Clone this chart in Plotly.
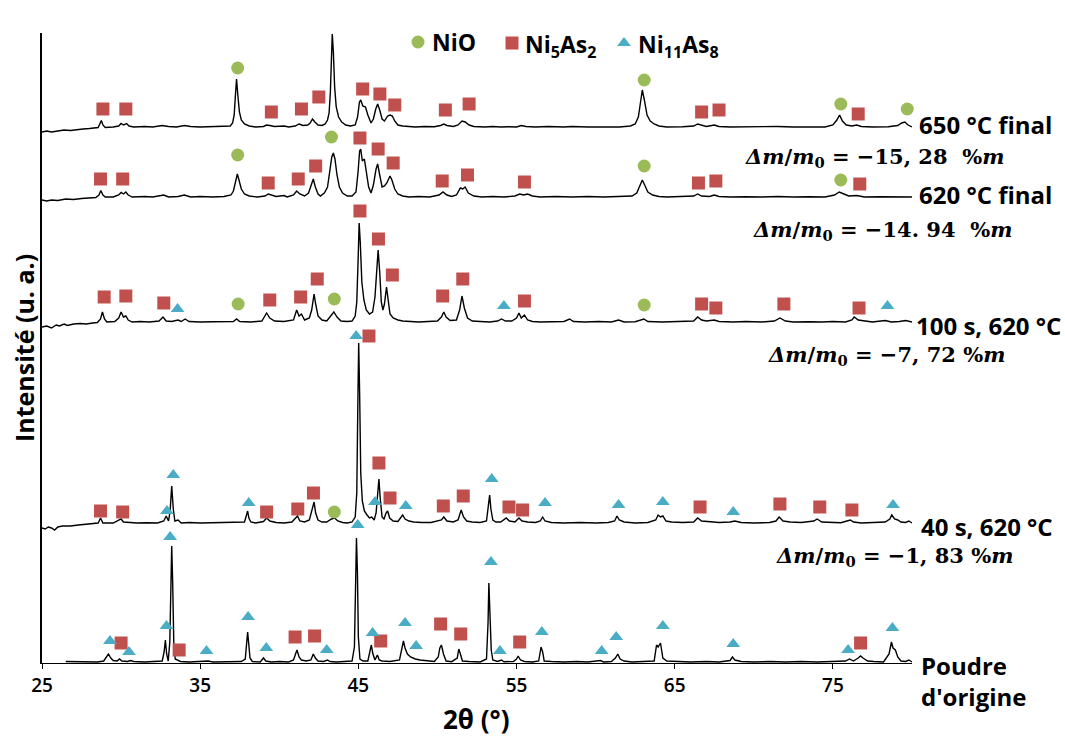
import plotly.graph_objects as go

# ---------------------------------------------------------------------------
# Diffractograms: (2theta in degrees, intensity above the pattern baseline)
# ---------------------------------------------------------------------------
profile_650 = [
    (25.0, -5), (25.3, -4), (25.6, -5), (26.0, -4), (26.4, -3), (26.8, -3.5), (27.2, -2.5), (27.6, -2), (28.0, -1.5), (28.4, -1),
    (28.55, -0.5), (28.68, 4), (28.75, 6.5), (28.85, 2), (29.0, -0.5),
    (29.5, 0), (29.85, 1), (30.0, 3.5), (30.15, 2), (30.35, 3.5), (30.5, 1), (30.8, 0),
    (31.5, 0.5), (32.0, 0), (32.6, 1.5), (33.0, 0.5), (33.5, 0), (34.0, 1.5), (34.4, 0.5), (35.0, 0), (35.5, 0.3), (36.0, 0), (36.6, 0.3),
    (36.9, 1), (37.05, 4), (37.15, 12), (37.22, 30), (37.3, 48), (37.38, 32), (37.48, 15), (37.6, 7), (37.8, 3), (38.1, 1), (38.5, 0),
    (39.0, 0.5), (39.2, 2), (39.4, 1.5), (39.7, 0.5), (40.3, 1), (40.6, 0), (41.0, 1), (41.25, 3), (41.5, 1.5), (41.8, 2),
    (41.95, 4), (42.1, 8), (42.25, 5), (42.45, 2), (42.7, 1.5), (42.9, 3),
    (43.05, 7), (43.15, 14), (43.23, 35), (43.3, 75), (43.35, 93), (43.42, 75), (43.5, 40), (43.6, 20), (43.75, 10), (43.95, 5), (44.2, 2), (44.5, 1), (44.8, 2),
    (44.95, 10), (45.07, 25), (45.15, 27), (45.28, 21), (45.45, 20), (45.6, 12), (45.8, 4), (45.95, 8),
    (46.1, 18), (46.22, 23), (46.35, 17), (46.5, 8), (46.65, 6), (46.85, 11), (47.0, 12), (47.15, 11), (47.3, 6), (47.5, 2), (47.8, 1), (48.2, 0.5),
    (48.6, 0), (49.2, 0.5), (49.8, 0.3), (50.2, 1.5), (50.4, 3), (50.6, 1.5), (51.0, 0.5), (51.3, 2), (51.55, 6), (51.75, 5), (52.0, 2), (52.3, 0.5),
    (53.0, 0), (53.5, 0.5), (54.0, 0), (54.5, 0.3), (55.0, 0), (55.3, 1.5), (55.6, 0.5), (56.2, 0), (57.0, 0.5), (58.0, 0), (58.5, 0.5),
    (59.5, 0), (60.5, 0.3), (61.5, 0), (62.2, 1),
    (62.5, 3), (62.7, 10), (62.82, 24), (62.95, 37), (63.08, 27), (63.25, 12), (63.45, 6), (63.7, 3), (64.0, 1), (64.5, 0),
    (65.5, 0.3), (66.2, 1), (66.45, 3), (66.7, 1.5), (67.0, 0.5), (67.5, 2), (67.8, 0.5), (68.5, 0), (69.5, 0.3), (70.5, 0),
    (71.5, 0.5), (72.5, 0), (73.5, 0.3), (74.5, 0), (75.0, 2),
    (75.25, 7), (75.42, 12), (75.6, 6), (75.85, 2), (76.2, 1), (76.5, 2), (76.8, 0.5), (77.5, 0), (78.5, 0.3), (79.1, 1.5),
    (79.35, 4), (79.55, 5), (79.75, 2), (80.0, 0),
]

profile_620 = [
    (25.0, -3), (25.3, -4), (25.6, -3), (26.0, -3.5), (26.5, -2), (27.0, -2.5), (27.5, -1.5), (28.0, -1), (28.4, -0.5),
    (28.6, 2), (28.72, 6.5), (28.85, 2), (29.0, 0),
    (29.5, 0), (29.85, 2), (30.0, 4.5), (30.15, 3), (30.3, 5), (30.45, 2), (30.7, 0),
    (31.5, 0.5), (32.0, 0), (32.7, 2), (33.0, 0), (33.6, 0.5), (34.0, 2), (34.4, 0), (35.0, 0.5), (35.8, 0), (36.5, 0.5),
    (36.95, 2), (37.1, 6), (37.22, 15), (37.35, 23), (37.47, 16), (37.6, 8), (37.8, 3), (38.1, 1), (38.6, 0),
    (39.1, 1), (39.3, 3), (39.5, 2), (39.8, 0.5), (40.3, 1.5), (40.5, 0), (40.9, 2), (41.1, 6), (41.3, 3), (41.6, 1), (41.85, 4),
    (42.0, 10), (42.15, 18), (42.28, 10), (42.45, 3), (42.6, 1), (42.85, 4),
    (43.05, 10), (43.2, 25), (43.32, 40), (43.42, 44), (43.52, 38), (43.65, 22), (43.8, 10), (44.0, 4), (44.3, 1), (44.6, 1), (44.85, 5),
    (44.98, 25), (45.08, 46), (45.15, 48), (45.25, 36), (45.38, 38), (45.5, 25), (45.65, 10), (45.8, 4), (45.95, 12),
    (46.12, 28), (46.22, 33), (46.35, 22), (46.5, 10), (46.65, 11), (46.8, 14), (47.0, 21), (47.12, 17), (47.3, 8), (47.5, 3), (47.8, 1), (48.2, 0),
    (48.8, 0.5), (49.5, 0), (50.1, 2), (50.35, 5), (50.6, 2), (50.9, 0.5), (51.2, 2), (51.45, 9), (51.6, 8), (51.75, 10), (51.95, 4), (52.3, 1),
    (52.8, 0), (53.5, 0.5), (54.2, 0), (54.9, 1), (55.2, 3), (55.45, 2), (55.7, 3), (56.0, 1), (56.5, 0), (57.5, 0.5), (58.5, 0),
    (59.5, 0.5), (60.5, 0), (61.5, 0.3), (62.3, 1),
    (62.6, 4), (62.8, 11), (62.95, 17), (63.1, 12), (63.3, 5), (63.6, 2), (64.0, 0.5), (64.5, 0),
    (65.5, 0.3), (66.2, 1), (66.45, 3), (66.7, 1), (67.2, 0.5), (67.5, 2), (67.8, 0.5), (68.5, 0), (69.5, 0.3), (70.5, 0),
    (71.5, 0.5), (72.5, 0), (73.5, 0.3), (74.5, 0), (75.1, 2), (75.4, 5), (75.7, 3), (76.0, 1), (76.5, 1.5), (77.0, 0),
    (78.0, 0.3), (79.0, 0), (79.5, 0.5), (80.0, 0),
]

profile_100s = [
    (25.0, -5), (25.3, -4), (25.6, -6), (25.9, -3), (26.1, -4), (26.4, -2), (26.6, -3.5), (27.0, -2), (27.4, -1.5), (27.8, -2), (28.2, -1), (28.5, -0.5),
    (28.7, 3), (28.82, 10), (28.95, 3), (29.1, 0),
    (29.6, 0.5), (29.85, 4), (30.0, 10), (30.15, 5), (30.3, 6), (30.45, 2), (30.7, 0),
    (31.2, 0.5), (31.8, 0), (32.4, 1), (32.65, 5), (32.85, 1), (33.2, 0.5), (33.6, 2), (33.8, 0.5), (34.05, 3), (34.3, 0.5), (35.0, 0), (35.8, 0.3), (36.6, 0),
    (37.1, 0.5), (37.3, 3), (37.5, 0.5), (38.2, 0), (38.9, 1), (39.2, 9), (39.4, 4), (39.7, 1), (40.3, 0.5), (40.9, 2),
    (41.1, 12), (41.25, 6), (41.4, 8), (41.6, 2), (41.9, 4),
    (42.05, 12), (42.15, 26), (42.2, 28), (42.3, 18), (42.45, 6), (42.7, 2), (43.0, 1), (43.2, 5), (43.45, 10), (43.65, 5), (43.9, 1), (44.3, 0.5), (44.6, 1), (44.8, 6),
    (44.9, 20), (44.98, 60), (45.05, 99), (45.12, 80), (45.22, 40), (45.35, 22), (45.5, 12), (45.7, 8), (45.9, 10), (46.05, 25),
    (46.15, 55), (46.25, 72), (46.35, 50), (46.45, 20), (46.55, 12), (46.65, 18), (46.78, 35), (46.88, 22), (47.0, 8), (47.2, 4), (47.5, 2), (47.8, 1),
    (48.3, 0.5), (48.8, 0), (49.4, 0.5), (50.0, 1),
    (50.25, 5), (50.4, 10), (50.55, 5), (50.8, 1.5), (51.2, 2),
    (51.4, 12), (51.55, 26), (51.7, 14), (51.9, 4), (52.2, 1), (52.7, 0.5), (53.3, 0), (53.8, 1), (54.05, 3), (54.3, 1), (54.7, 1),
    (55.0, 4), (55.15, 9), (55.3, 4), (55.5, 7), (55.7, 2), (56.0, 0.5), (56.5, 0), (57.2, 0.5), (58.0, 0.5), (58.35, 3), (58.6, 0.5),
    (59.3, 0), (60.2, 0.5), (61.0, 0), (61.45, 2), (61.8, 0), (62.5, 0.3), (63.05, 3), (63.3, 0.5), (64.2, 0), (65.0, 0.3),
    (66.2, 1), (66.45, 5), (66.7, 2), (67.0, 1), (67.5, 2), (67.8, 0.5), (68.7, 0), (69.5, 0.5), (70.5, 0), (71.3, 1), (71.65, 4), (72.0, 1),
    (72.5, 0), (73.5, 0.3), (74.3, 0), (75.0, 0.5), (75.8, 0), (76.2, 2), (76.35, 5), (76.6, 2), (77.0, 1), (77.5, 0), (78.3, 1.5), (78.7, 0),
    (79.2, 0.5), (79.6, 1.5), (80.0, 0),
]

profile_40s = [
    (25.0, -5), (25.2, -6), (25.4, -4), (25.6, -5), (25.8, -7), (26.0, -4), (26.3, -3), (26.8, -3), (27.3, -2), (27.8, -1.5), (28.3, -1),
    (28.55, 0), (28.7, 5), (28.85, 0),
    (29.5, 0), (30.0, 4), (30.15, 1), (30.4, 0.5), (31.0, 0), (31.6, 0.3), (32.3, 0), (32.7, 2), (32.85, 7), (33.0, 2),
    (33.1, 12), (33.2, 37), (33.3, 14), (33.4, 2), (33.6, 3), (33.8, 0), (34.3, 0.5), (35.0, 0), (35.7, 0.3), (36.5, 0), (37.3, 0.3), (37.8, 1),
    (37.93, 8), (38.0, 12), (38.08, 5), (38.2, 1), (38.5, 0), (39.0, 1.5), (39.2, 5), (39.4, 2), (39.8, 0.5), (40.3, 0), (40.8, 1),
    (41.15, 7), (41.3, 2), (41.6, 1), (41.9, 3),
    (42.1, 14), (42.2, 21), (42.3, 10), (42.45, 3), (42.7, 1), (43.0, 1), (43.3, 4), (43.5, 5), (43.7, 2), (44.0, 0.5), (44.3, 0), (44.6, 1), (44.8, 6),
    (44.9, 30), (44.96, 110), (45.02, 180), (45.08, 130), (45.15, 50), (45.25, 22), (45.38, 12), (45.55, 8), (45.7, 5), (45.85, 6), (46.0, 3), (46.12, 10),
    (46.22, 30), (46.3, 44), (46.38, 25), (46.5, 6), (46.62, 4), (46.75, 10), (46.85, 12), (46.98, 5), (47.2, 2), (47.5, 1.5), (47.8, 8), (47.95, 4),
    (48.2, 2), (48.5, 1), (49.0, 0.5), (49.6, 0.5),
    (50.25, 3), (50.4, 6), (50.6, 2), (51.0, 1), (51.3, 3),
    (51.5, 13), (51.65, 6), (51.85, 2), (52.2, 1), (52.7, 0.5), (53.1, 2),
    (53.22, 15), (53.3, 28), (53.38, 14), (53.5, 3), (53.7, 1), (54.0, 1), (54.35, 5), (54.55, 2), (54.9, 1), (55.15, 5), (55.35, 2), (55.7, 1),
    (56.2, 0.5), (56.5, 2), (56.65, 6), (56.8, 2), (57.2, 0.5), (58.0, 0), (59.0, 0.5), (60.0, 0), (60.8, 0.5), (61.2, 2), (61.35, 7), (61.5, 3),
    (61.8, 1), (62.5, 0), (63.3, 0.5), (63.8, 3), (63.95, 8), (64.1, 6), (64.25, 7), (64.45, 2), (64.8, 1), (65.5, 0.5), (66.2, 1), (66.45, 5),
    (66.7, 2), (67.2, 1), (67.8, 0.5), (68.5, 1), (68.8, 2), (69.2, 0.5), (70.0, 0), (71.0, 0.5), (71.4, 2), (71.6, 6), (71.85, 2), (72.3, 1),
    (73.0, 0.5), (73.8, 2), (74.0, 4), (74.3, 1), (74.8, 0.5), (75.5, 0.3), (76.1, 3), (76.3, 1), (76.8, 0), (77.5, 0.5), (78.3, 1),
    (78.6, 4), (78.72, 8), (78.9, 4), (79.1, 3), (79.3, 1), (79.6, 0.5), (79.8, 2), (80.0, 0),
]

profile_powder = [
    (26.5, 0.5), (27.0, 0.5), (27.5, 0), (28.0, 0.5), (28.5, 0), (28.9, 1),
    (29.1, 5), (29.2, 8), (29.35, 4), (29.5, 1.5), (29.75, 1), (29.9, 3), (30.05, 1), (30.4, 0.5), (30.6, 1.5), (30.8, 0.5), (31.5, 0), (32.2, 0.5), (32.6, 1),
    (32.72, 10), (32.8, 22), (32.88, 8), (32.98, 1), (33.08, 20),
    (33.14, 80), (33.2, 116), (33.26, 80), (33.33, 20), (33.42, 3), (33.6, 2), (33.75, 0.5), (34.3, 0), (35.0, 0.3), (35.5, 1), (35.8, 0),
    (36.5, 0.3), (37.0, 0), (37.6, 0.5), (37.85, 3),
    (37.93, 18), (38.0, 30), (38.07, 18), (38.15, 4), (38.3, 0.5), (38.8, 0), (39.0, 4), (39.15, 1), (39.5, 0), (40.0, 0.5), (40.6, 0), (40.9, 2),
    (41.05, 9), (41.12, 12), (41.25, 5), (41.4, 2), (41.7, 1), (42.0, 2), (42.15, 8), (42.28, 4), (42.45, 1), (42.8, 0.5), (43.05, 2), (43.2, 0.5),
    (43.6, 0), (44.2, 0.5), (44.6, 1),
    (44.75, 15), (44.82, 70), (44.88, 124), (44.94, 90), (45.0, 25), (45.1, 3), (45.3, 1), (45.6, 1), (45.75, 10),
    (45.82, 17), (45.92, 8), (46.05, 2), (46.2, 7), (46.32, 2), (46.5, 1), (47.0, 0.5), (47.6, 2), (47.78, 15),
    (47.85, 21), (47.95, 14), (48.1, 8), (48.3, 5), (48.6, 3), (48.9, 2), (49.3, 1), (49.8, 0.5), (50.05, 5),
    (50.15, 14), (50.25, 17), (50.38, 8), (50.55, 1), (50.9, 0.3), (51.25, 4),
    (51.35, 13), (51.45, 8), (51.58, 1), (52.0, 0.5), (52.7, 0), (53.1, 3),
    (53.2, 40), (53.25, 79), (53.32, 55), (53.4, 12), (53.5, 2), (53.8, 0.5), (54.05, 2), (54.2, 0.3), (54.8, 0.5), (55.0, 3), (55.1, 6), (55.25, 2),
    (55.5, 0.5), (56.0, 0), (56.4, 1), (56.55, 15), (56.65, 10), (56.75, 1), (57.2, 0.5), (58.0, 0), (58.8, 0.5), (59.5, 0), (60.3, 1.5), (60.5, 0),
    (61.0, 0.5), (61.25, 4), (61.4, 8), (61.55, 3), (61.8, 1), (62.3, 0), (63.0, 0.5), (63.7, 1), (63.85, 17), (63.95, 15), (64.1, 19), (64.25, 4),
    (64.5, 1), (65.3, 0.5), (66.0, 0), (67.0, 0.5), (67.8, 0), (68.5, 1.5), (68.65, 5), (68.8, 2), (69.2, 0.5), (70.0, 0), (71.0, 0.5), (72.0, 0),
    (73.0, 0.5), (74.0, 0), (75.0, 0.5), (75.8, 1), (76.05, 3), (76.3, 1), (76.6, 4), (76.75, 6), (76.9, 4), (77.2, 1), (77.6, 0.5), (78.2, 0),
    (78.55, 8), (78.7, 20), (78.8, 14), (78.95, 12), (79.1, 5), (79.3, 1), (79.6, 0.5), (79.8, 2), (80.0, 0),
]

# ---------------------------------------------------------------------------
# Phase identification: (2theta of the reflection, marker height above baseline)
# ---------------------------------------------------------------------------
nio_650 = [(37.37, 59), (43.4, 105), (63.07, 47), (75.5, 23), (79.7, 18)]
ni5as2_650 = [(28.85, 18), (30.3, 18), (39.5, 15), (41.4, 18), (42.5, 30), (45.27, 38), (46.36, 33), (47.3, 22),
              (50.5, 17), (52.0, 23), (66.7, 15), (67.8, 17), (76.6, 13)]

nio_620 = [(37.37, 42), (43.3, 60), (63.07, 31), (75.5, 17)]
ni5as2_620 = [(28.7, 18), (30.1, 18), (39.3, 14), (41.2, 18), (42.3, 31), (45.1, 59), (46.25, 48), (47.2, 34),
              (50.3, 16), (51.9, 22), (55.5, 15), (66.5, 14), (67.6, 16), (76.7, 13)]

nio_100s = [(37.4, 18), (43.48, 23), (63.07, 17)]
ni5as2_100s = [(28.93, 25), (30.3, 26), (32.7, 19), (39.4, 22), (41.35, 25), (42.4, 43), (45.1, 111), (46.27, 83),
               (47.15, 47), (50.33, 26), (51.6, 43), (55.5, 21), (66.7, 18), (67.6, 14), (71.9, 18), (76.65, 14)]
ni11as8_100s = [(33.57, 13), (54.2, 16), (78.45, 16)]

nio_40s = [(43.48, 11)]
ni5as2_40s = [(28.7, 12), (30.1, 11), (39.2, 11), (41.17, 14), (42.16, 30), (45.67, 187), (46.3, 60), (47.0, 25),
              (50.37, 17), (51.63, 27), (54.52, 16), (55.38, 13), (66.6, 16), (71.65, 19), (74.17, 16), (76.2, 13)]
ni11as8_40s = [(32.9, 12), (33.3, 48), (38.07, 20), (44.86, 187), (46.05, 21), (48.0, 17), (53.43, 44), (56.8, 20),
               (61.45, 18), (64.25, 21), (68.7, 11), (78.8, 18)]

ni5as2_powder = [(30.0, 19), (33.67, 12), (41.0, 25), (42.23, 26), (46.41, 21), (50.2, 38), (51.47, 28), (55.2, 20), (76.75, 19)]
ni11as8_powder = [(29.3, 21), (30.5, 10), (32.87, 36), (33.1, 125), (35.4, 11), (38.03, 45), (39.18, 14), (43.0, 12),
                  (44.96, 137), (45.9, 29), (47.95, 39), (48.65, 16), (53.38, 100), (53.95, 11), (56.6, 30), (60.38, 11),
                  (61.3, 25), (64.25, 36), (68.7, 18), (75.96, 12), (78.76, 34)]

sample_labels = ["650 °C final", "620 °C final", "100 s, 620 °C", "40 s, 620 °C", "Poudre<br>d'origine"]
mass_loss = ["−15, 28\u00a0\u00a0", "−14. 94\u00a0\u00a0", "−7, 72\u00a0", "−1, 83\u00a0"]
xticks = [25, 35, 45, 55, 65, 75]

# ---------------------------------------------------------------------------
# Layout constants
# ---------------------------------------------------------------------------
W, H = 1065, 736
ML, MR, MT, MB = 42, 153, 33, 73
PW, PH = W - ML - MR, H - MT - MB

# vertical stacking of the patterns (intensity units)
off_650, off_620, off_100s, off_40s, off_powder = 536, 466, 341, 140, 1

C_NIO, C_NI5, C_NI11 = "#9BBB59", "#C0504D", "#4BACC6"
SANS = "Open Sans"
SERIF = "DejaVu Serif"


def px(x):
    return (x - ML) / PW


def py(y):
    return (H - MB - y) / PH


fig = go.Figure()

patterns = [
    (profile_650, off_650),
    (profile_620, off_620),
    (profile_100s, off_100s),
    (profile_40s, off_40s),
    (profile_powder, off_powder),
]
for prof, off in patterns:
    fig.add_trace(go.Scatter(
        x=[p[0] for p in prof], y=[p[1] + off for p in prof],
        mode="lines", line=dict(color="black", width=1.4),
        hoverinfo="skip", showlegend=False,
    ))


def phase_points(groups):
    xs, ys = [], []
    for pts, off in groups:
        for t, lvl in pts:
            xs.append(t)
            ys.append(lvl + off)
    return xs, ys


nio_x, nio_y = phase_points([(nio_650, off_650), (nio_620, off_620), (nio_100s, off_100s), (nio_40s, off_40s)])
ni5_x, ni5_y = phase_points([(ni5as2_650, off_650), (ni5as2_620, off_620), (ni5as2_100s, off_100s),
                             (ni5as2_40s, off_40s), (ni5as2_powder, off_powder)])
ni11_x, ni11_y = phase_points([(ni11as8_100s, off_100s), (ni11as8_40s, off_40s), (ni11as8_powder, off_powder)])

phases = [
    ("square", 13, C_NI5, ni5_x, ni5_y, (512, 43)),
    ("circle", 13, C_NIO, nio_x, nio_y, (418, 42)),
    ("triangle-up", 12, C_NI11, ni11_x, ni11_y, (624, 43)),
]
for sym, size, col, xs, ys, key in phases:
    fig.add_trace(go.Scatter(x=xs, y=ys, mode="markers", cliponaxis=False, showlegend=False, hoverinfo="skip",
                             marker=dict(symbol=sym, size=size, color=col, line=dict(width=0))))
    # legend key, placed on an overlay axis expressed in pixels
    fig.add_trace(go.Scatter(x=[key[0]], y=[key[1]], xaxis="x2", yaxis="y2", mode="markers", cliponaxis=False,
                             showlegend=False, hoverinfo="skip",
                             marker=dict(symbol=sym, size=size, color=col, opacity=1, line=dict(width=0))))

annotations = []
legend_text = [("NiO", 430, 42), ("Ni<sub>5</sub>As<sub>2</sub>", 523, 45), ("Ni<sub>11</sub>As<sub>8</sub>", 636, 45)]
for txt, x0, y0 in legend_text:
    annotations.append(dict(text=txt, x=px(x0), y=py(y0), xref="paper", yref="paper", xanchor="left", yanchor="middle",
                            showarrow=False, font=dict(family=SANS, size=23, color="black", weight="bold")))

label_pos = [(917, 124), (917, 194), (914, 325), (919, 526)]
for txt, (x0, y0) in zip(sample_labels[:4], label_pos):
    annotations.append(dict(text=txt, x=px(x0), y=py(y0), xref="paper", yref="paper", xanchor="left", yanchor="middle",
                            showarrow=False, font=dict(family=SANS, size=24, color="black", weight="bold")))
annotations.append(dict(text=sample_labels[4], x=px(919), y=py(681), xref="paper", yref="paper", xanchor="left",
                        yanchor="middle", align="left", showarrow=False,
                        font=dict(family=SANS, size=24, color="black", weight="bold")))

dm_pos = [(743, 158), (751, 230), (766, 355), (774, 556)]
for val, (x0, y0) in zip(mass_loss, dm_pos):
    txt = "<b><i>Δm</i>/<i>m</i><sub>0</sub> = " + val + "%<i>m</i></b>"
    annotations.append(dict(text=txt, x=px(x0), y=py(y0), xref="paper", yref="paper", xanchor="left", yanchor="middle",
                            showarrow=False, font=dict(family=SERIF, size=21, color="black")))

annotations.append(dict(text="2θ (°)", x=px(476), y=py(719), xref="paper", yref="paper", xanchor="center",
                        yanchor="middle", showarrow=False, font=dict(family=SANS, size=26, color="black", weight="bold")))
annotations.append(dict(text="Intensité (u. a.)", x=px(24), y=py(348), xref="paper", yref="paper", xanchor="center",
                        yanchor="middle", textangle=-90, showarrow=False,
                        font=dict(family=SANS, size=25, color="black", weight="bold")))

fig.update_layout(
    width=W, height=H,
    margin=dict(l=ML, r=MR, t=MT, b=MB),
    paper_bgcolor="white", plot_bgcolor="white",
    showlegend=False,
    xaxis=dict(range=[25, 80], tickmode="array", tickvals=xticks, ticktext=[str(v) for v in xticks],
               ticks="outside", ticklen=5, tickwidth=1, tickcolor="black",
               showline=True, linecolor="black", linewidth=1.3, showgrid=False, zeroline=False,
               tickfont=dict(family="Open Sans", size=19, color="black", weight=600)),
    yaxis=dict(range=[0, PH], showticklabels=False, ticks="", showline=True, linecolor="black", linewidth=2,
               showgrid=False, zeroline=False),
    xaxis2=dict(overlaying="x", range=[ML, W - MR], visible=False),
    yaxis2=dict(overlaying="y", range=[H - MB, MT], visible=False),
    annotations=annotations,
)

fig.write_html("out.html")
